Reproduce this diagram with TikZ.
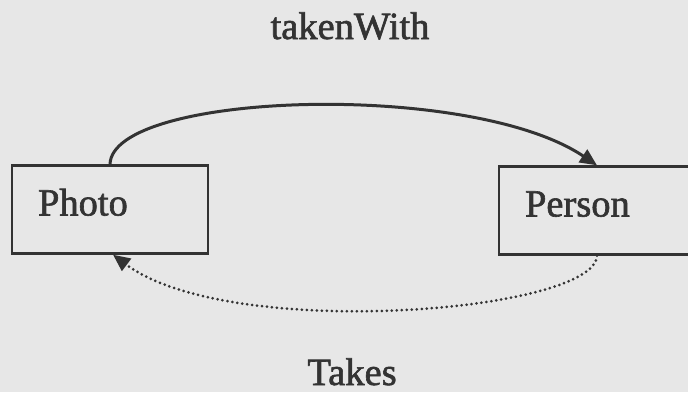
\documentclass[tikz,border=0pt]{standalone}
\usepackage{fontspec}
\setmainfont{Liberation Serif}
\newfontfamily\heavyserif[FakeBold=1.6]{Liberation Serif}
\usetikzlibrary{arrows.meta}
\definecolor{paper}{HTML}{E7E7E7}
\definecolor{ink}{HTML}{333333}
\begin{document}
\begin{tikzpicture}[x=1pt,y=-1pt,
  bigtext/.style={font=\heavyserif\fontsize{38.5}{46}\selectfont, text=ink},
  classbox/.style={bigtext, draw=ink, line width=2.4pt, rectangle,
    minimum width=196pt, minimum height=88pt, inner xsep=26pt,
    text width=144pt, align=left, text height=26pt, text depth=14pt},
  relation/.style={bigtext, anchor=base, inner sep=0pt},
  tip/.style={-{Triangle[length=17pt,width=15pt]}},
  solidlink/.style={tip, draw=ink, line width=3pt},
  dottedlink/.style={tip, draw=ink, line width=3pt, line cap=round,
    dash pattern=on 0pt off 5pt}]
  \fill[paper] (0,0) rectangle (688,392);
  \useasboundingbox (0,0) rectangle (688,392);

  % the two classes
  \node[classbox] (photo) at (110,209.5) {Photo};
  \node[classbox] (person) at (597,210.5) {Person};

  % relation names
  \node[relation] (taken) at (350,39) {takenWith};
  \node[relation] (takes) at (352,385) {Takes};

  % takenWith: Photo -> Person
  \draw[solidlink] (photo.north) .. controls (112,92) and (470,80) .. (person.north);
  % Takes: Person -> Photo
  \draw[dottedlink] (person.south) .. controls (595,312) and (230,342) .. ([xshift=3pt]photo.south);
\end{tikzpicture}
\end{document}
